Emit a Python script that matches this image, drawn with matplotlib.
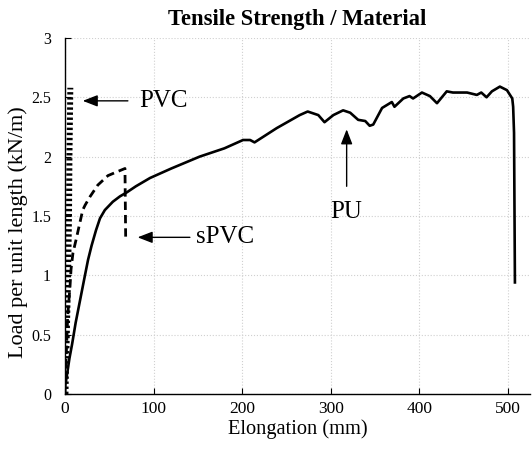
import matplotlib
matplotlib.use("Agg")
import matplotlib.pyplot as plt

plt.rcParams['font.family'] = ['Liberation Serif', 'DejaVu Serif']

# PVC (dotted)
pvc_x = [0.5, 2.0, 3.5, 4.5, 5.0, 5.5, 6.0]
pvc_y = [0.0, 0.5, 1.0, 1.5, 2.0, 2.3, 2.58]

# sPVC (dashed)
spvc_x = [0.0, 1.5, 3.0, 4.5, 5.6, 6.8, 9.0, 12.5, 17.0, 20.0, 22.6, 28.0, 37.0, 48.5, 58.0, 67.7, 68.5]
spvc_y = [0.0, 0.35, 0.65, 0.8, 0.9, 1.05, 1.19, 1.30, 1.45, 1.55, 1.59, 1.66, 1.76, 1.84, 1.87, 1.90, 1.31]

# PU (solid)
pu_x = [0.5, 2, 5, 8, 12, 17, 22, 26, 30, 35, 39.5, 45, 54, 62, 70, 80, 96, 120, 152, 180, 201, 209, 214,
        239, 265, 274, 286, 293, 303, 314, 322, 331, 339, 344, 348, 358, 369, 372, 382, 389,
        393, 403, 412, 420, 431, 438, 454, 465, 470, 476, 482, 491, 499, 505, 506, 507, 508]
pu_y = [0.08, 0.15, 0.30, 0.42, 0.60, 0.79, 0.98, 1.13, 1.25, 1.38, 1.48, 1.55, 1.62, 1.665, 1.70, 1.75, 1.82, 1.90, 2.00, 2.07, 2.14, 2.14, 2.12,
        2.24, 2.35, 2.38, 2.35, 2.29, 2.35, 2.39, 2.37, 2.31, 2.30, 2.26, 2.27, 2.41, 2.46, 2.42, 2.49, 2.51,
        2.49, 2.54, 2.51, 2.45, 2.55, 2.54, 2.54, 2.52, 2.54, 2.50, 2.55, 2.59, 2.56, 2.49, 2.42, 2.2, 0.94]

xticks = [0, 100, 200, 300, 400, 500]
yticks = [0, 0.5, 1, 1.5, 2, 2.5, 3]
ytick_labels = ['0', '0.5', '1', '1.5', '2', '2.5', '3']

fig = plt.figure(figsize=(5.32, 4.49), dpi=100)
ax = fig.add_axes([0.1222, 0.1225, 0.874, 0.793])

ax.plot(pvc_x, pvc_y, color='black', lw=4.3, linestyle=(0, (0.4, 0.45)), dash_capstyle='butt')
ax.plot(spvc_x, spvc_y, color='black', lw=2.0, linestyle=(0, (3.0, 1.8)))
ax.plot(pu_x, pu_y, color='black', lw=1.9)

ax.set_xlim(0, 525)
ax.set_ylim(0, 3)
ax.set_xticks(xticks)
ax.set_yticks(yticks)
ax.set_yticklabels(ytick_labels)
ax.tick_params(direction='in', length=4, width=0.8)
ax.tick_params(axis='x', labelsize=12.5, pad=5)
ax.tick_params(axis='y', labelsize=11.5, pad=10)
ax.grid(True, color='#d0d0d0', linestyle=':', linewidth=0.8)
for s in ['top', 'right']:
    ax.spines[s].set_visible(False)
for s in ['left', 'bottom']:
    ax.spines[s].set_linewidth(1.0)

ax.set_title('Tensile Strength / Material', fontsize=16.3, fontweight='bold', pad=9)
ax.set_xlabel('Elongation (mm)', fontsize=14.7, labelpad=2)
ax.set_ylabel('Load per unit length (kN/m)', fontsize=16)
ax.yaxis.set_label_coords(-0.079, 0.455)

arrowprops = dict(arrowstyle='-|>,head_length=0.9,head_width=0.35', color='black', lw=1.0, shrinkA=0, shrinkB=0)
ax.annotate('', xy=(20, 2.47), xytext=(71, 2.47), arrowprops=arrowprops)
ax.text(84, 2.47, 'PVC', fontsize=18, va='center', ha='left')
ax.annotate('', xy=(82, 1.32), xytext=(141, 1.32), arrowprops=arrowprops)
ax.text(148, 1.32, 'sPVC', fontsize=18, va='center', ha='left')
ax.annotate('', xy=(318, 2.23), xytext=(318, 1.75), arrowprops=arrowprops)
ax.text(318, 1.53, 'PU', fontsize=18, va='center', ha='center')

fig.savefig('out.png', dpi=100)
